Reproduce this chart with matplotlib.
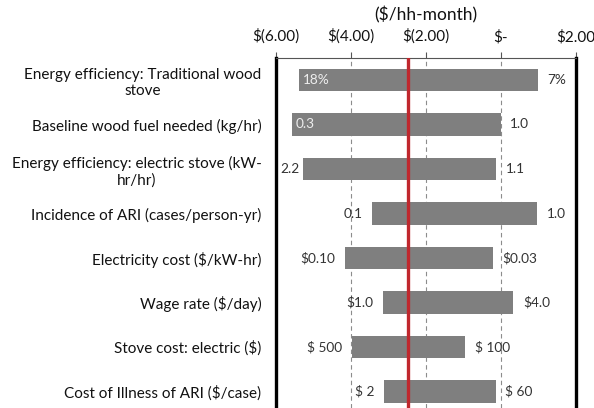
import matplotlib
matplotlib.use('Agg')
import matplotlib.pyplot as plt

plt.rcParams['text.parse_math'] = False
plt.rcParams['font.family'] = ['Lato', 'DejaVu Sans']

# tornado chart data ($/hh-month)
categories = [
    "Energy efficiency: Traditional wood\nstove",
    "Baseline wood fuel needed (kg/hr)",
    "Energy efficiency: electric stove (kW-\nhr/hr)",
    "Incidence of ARI (cases/person-yr)",
    "Electricity cost ($/kW-hr)",
    "Wage rate ($/day)",
    "Stove cost: electric ($)",
    "Cost of Illness of ARI ($/case)",
]
low_values = [-5.37, -5.57, -5.26, -3.42, -4.15, -3.13, -3.97, -3.11]
high_values = [1.00, 0.00, -0.11, 0.98, -0.21, 0.34, -0.95, -0.13]
low_labels = ["18%", "0.3", "2.2", "0.1", "$0.10", "$1.0", "$ 500", "$ 2"]
high_labels = ["7%", "1.0", "1.1", "1.0", "$0.03", "$4.0", "$ 100", "$ 60"]
label_inside = [True, True, False, False, False, False, False, False]
base_value = -2.46
tick_values = [-6, -4, -2, 0, 2]
tick_labels = ["$(6.00)", "$(4.00)", "$(2.00)", "$-", "$2.00"]

fig = plt.figure(figsize=(5.94, 4.08), dpi=100)
W, H = 594, 408
left, right, top, bottom = 275.5, 575.5, 58, 408
ax = fig.add_axes([left / W, 1 - bottom / H, (right - left) / W, (bottom - top) / H])

ypos = list(range(len(categories)))
widths = [h - l for l, h in zip(low_values, high_values)]
ax.barh(ypos, widths, left=low_values, height=0.5, color='#7F7F7F', zorder=2)

for x in [-4, -2, 0]:
    ax.axvline(x, color='#8C8C8C', lw=0.8, ls=(0, (4, 3)), zorder=1)
ax.axvline(base_value, color='#C0272D', lw=2.4, zorder=3)

for y, lo, hi, ll, hl, inside in zip(ypos, low_values, high_values,
                                     low_labels, high_labels, label_inside):
    if inside:
        ax.annotate(ll, (lo, y), xytext=(3, 0), textcoords='offset points',
                    ha='left', va='center', fontsize=9.8, color='#EDEDED', zorder=4)
    else:
        off = -3 if ll == "2.2" else -7
        ax.annotate(ll, (lo, y), xytext=(off, 0), textcoords='offset points',
                    ha='right', va='center', fontsize=9.8, color='#333333', zorder=4)
    ax.annotate(hl, (hi, y), xytext=(7, 0), textcoords='offset points',
                ha='left', va='center', fontsize=9.8, color='#333333', zorder=4)

ax.set_xlim(-6, 2)
ax.set_ylim(7 + (408 - 391.5) / 44.5, -22 / 44.5)
ax.xaxis.tick_top()
ax.set_xticks(tick_values)
ax.set_xticklabels(tick_labels, fontsize=11, color='#111111')
ax.tick_params(axis='x', direction='out', length=4, width=0.8, color='#555555', pad=6)
ax.set_yticks(ypos)
ax.set_yticklabels(categories, fontsize=11, color='#111111')
for lab in ax.get_yticklabels():
    lab.set_multialignment('center')
ax.tick_params(axis='y', length=0, pad=10)

ax.spines['top'].set_color('#555555')
ax.spines['top'].set_linewidth(0.8)
ax.spines['bottom'].set_visible(False)
for s in ['left', 'right']:
    ax.spines[s].set_color('black')
    ax.spines[s].set_linewidth(2.4)

fig.text((left + right) / 2 / W, 1 - 15 / H, "($/hh-month)", ha='center', va='center',
         fontsize=12.5, color='#111111')

plt.savefig('out.png', dpi=100)
